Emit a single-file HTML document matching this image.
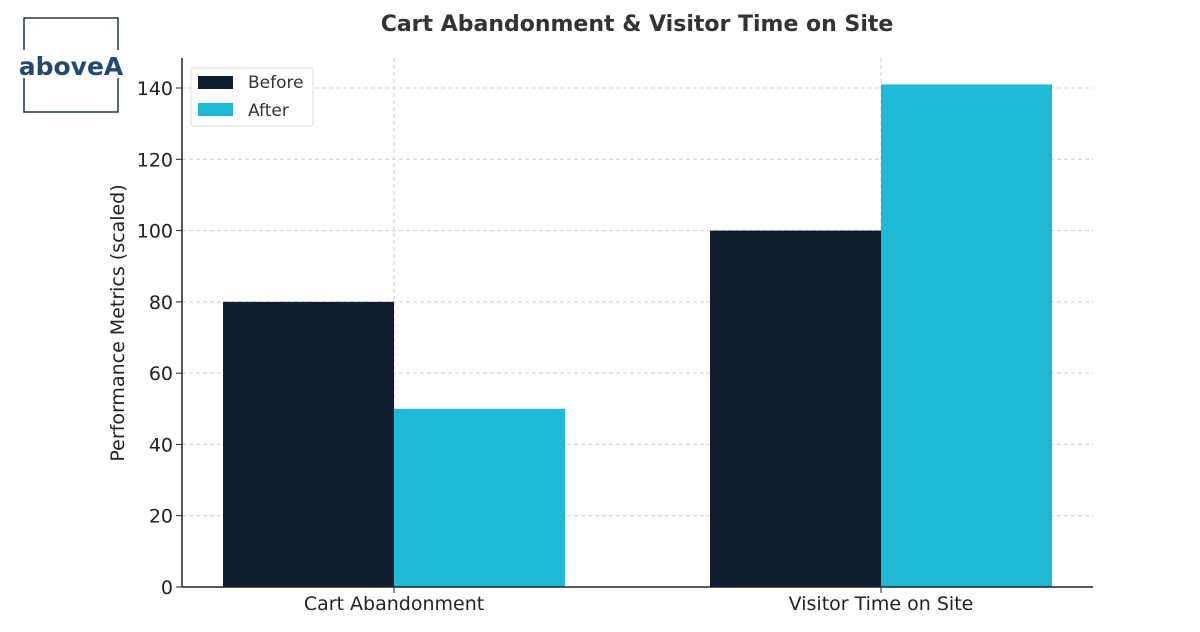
<!DOCTYPE html>
<html><head><meta charset="utf-8"><style>
body{margin:0;background:#fff;width:1200px;height:628px;overflow:hidden;font-family:"DejaVu Sans","Liberation Sans",sans-serif}
</style></head><body>
<svg id="chart" width="1200" height="628" xmlns="http://www.w3.org/2000/svg">
<g>
<path d="M24,50 V18 H118 V50 M24,78 V112 H118 V78" fill="none" stroke="#1e3550" stroke-width="1.5"/>
<text x="71" y="75" text-anchor="middle" font-size="25" font-weight="bold" fill="#234a6e" font-family="DejaVu Sans,sans-serif">aboveA</text>
</g>
<text x="637" y="31" text-anchor="middle" font-size="22" font-weight="bold" fill="#333">Cart Abandonment &amp; Visitor Time on Site</text>
<text transform="translate(124,323) rotate(-90)" text-anchor="middle" font-size="19" fill="#222">Performance Metrics (scaled)</text>
<g id="grid"></g><g id="bars"></g><g id="axes"></g>
<g>
<rect x="191" y="68" width="122" height="58" rx="3" fill="#fff" fill-opacity="0.9" stroke="#ddd"/>
<rect x="198" y="76" width="35" height="13" fill="#0f1c2d"/>
<text x="248" y="88" font-size="17" fill="#333">Before</text>
<rect x="198" y="103" width="35" height="13" fill="#1fb9d6"/>
<text x="248" y="116" font-size="17" fill="#333">After</text>
</g>
</svg>
<script>
const categories=["Cart Abandonment","Visitor Time on Site"];
const beforeValues=[80,100];
const afterValues=[50,141];
const yTicks=[0,20,40,60,80,100,120,140];
const NS="http://www.w3.org/2000/svg";
const L=182,R=1093,B=587;
const y=v=>B-v*(587-88)/140;
const cx=i=>394+i*487;
const bw=171;
function mk(t,a,p){const e=document.createElementNS(NS,t);for(const k in a)e.setAttribute(k,a[k]);p.appendChild(e);return e;}
const grid=document.getElementById('grid'),bars=document.getElementById('bars'),axes=document.getElementById('axes');
yTicks.forEach(v=>{
 if(v>0){const g=mk('line',{x1:L,x2:R,y1:y(v),y2:y(v),stroke:'#ccc','stroke-dasharray':'4,3'},grid);
 }
 mk('line',{x1:L-6,x2:L,y1:y(v),y2:y(v),stroke:'#222'},axes);
 const t=mk('text',{x:L-9,y:y(v)+7,'text-anchor':'end','font-size':19,fill:'#222'},axes);t.textContent=v;
 
});
categories.forEach((c,i)=>{
 const g=mk('line',{x1:cx(i),x2:cx(i),y1:58,y2:B,stroke:'#ccc','stroke-dasharray':'4,3'},grid);
 
 const b=mk('rect',{x:cx(i)-bw,y:y(beforeValues[i]),width:bw,height:B-y(beforeValues[i]),fill:'#0f1c2d'},bars);
 
 const a=mk('rect',{x:cx(i),y:y(afterValues[i]),width:bw,height:B-y(afterValues[i]),fill:'#1fb9d6'},bars);
 
 mk('line',{x1:cx(i),x2:cx(i),y1:B,y2:B+6,stroke:'#222'},axes);
 const t=mk('text',{x:cx(i),y:B+23,'text-anchor':'middle','font-size':19,fill:'#222'},axes);t.textContent=c;
 
});
mk('line',{x1:L,x2:L,y1:58,y2:B,stroke:'#222','stroke-width':1.5},axes);
mk('line',{x1:L,x2:R,y1:B,y2:B,stroke:'#222','stroke-width':1.5},axes);
</script>
</body></html>
